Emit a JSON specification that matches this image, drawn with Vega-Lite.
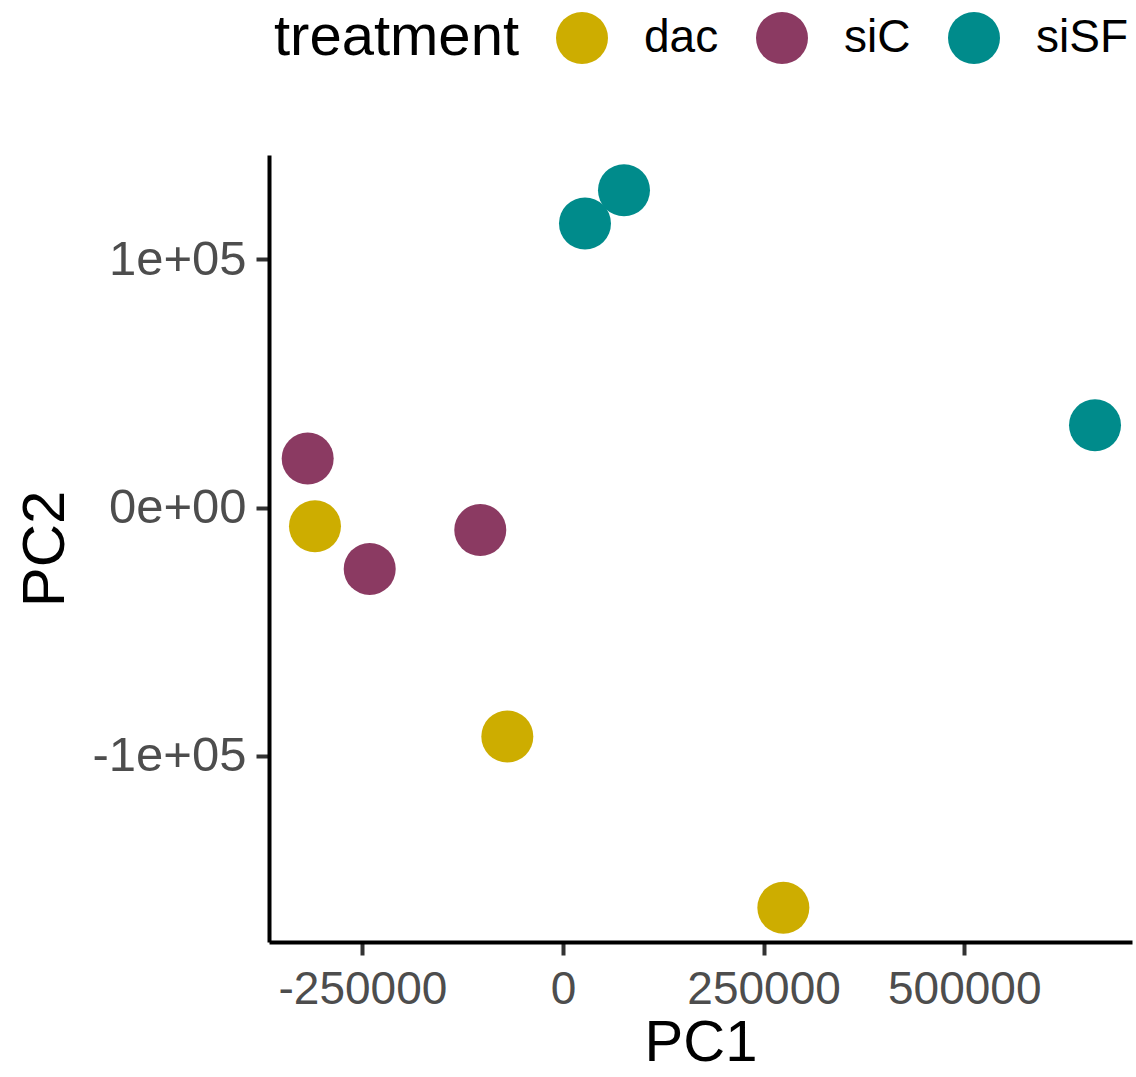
{
  "$schema": "https://vega.github.io/schema/vega-lite/v6.json",
  "autosize": "none",
  "width": 863,
  "height": 787,
  "padding": {"left": 269, "top": 155, "right": 4, "bottom": 135},
  "background": "white",
  "config": {
    "font": "Liberation Sans",
    "view": {"stroke": null},
    "axis": {
      "grid": false,
      "domainColor": "black",
      "domainWidth": 4,
      "tickColor": "#333333",
      "tickWidth": 4,
      "tickSize": 13,
      "labelFont": "Liberation Sans",
      "labelFontSize": 46,
      "labelColor": "#4D4D4D",
      "titleFont": "Liberation Sans",
      "titleFontSize": 60,
      "titleFontWeight": "normal",
      "titleColor": "black"
    }
  },
  "data": {
    "values": [
      {"PC1": 274600, "PC2": -161200, "treatment": "dac"},
      {"PC1": -69400, "PC2": -92200, "treatment": "dac"},
      {"PC1": -309100, "PC2": -7500, "treatment": "dac"},
      {"PC1": -318200, "PC2": 19800, "treatment": "siC"},
      {"PC1": -240900, "PC2": -24700, "treatment": "siC"},
      {"PC1": -103100, "PC2": -9000, "treatment": "siC"},
      {"PC1": 76000, "PC2": 127900, "treatment": "siSF"},
      {"PC1": 27400, "PC2": 114500, "treatment": "siSF"},
      {"PC1": 663000, "PC2": 33200, "treatment": "siSF"}
    ]
  },
  "mark": {"type": "point", "filled": true, "opacity": 1, "size": 2704, "shape": "circle"},
  "encoding": {
    "x": {
      "field": "PC1",
      "type": "quantitative",
      "scale": {"domain": [-366400, 709100], "nice": false, "zero": false},
      "axis": {
        "values": [-250000, 0, 250000, 500000],
        "labelExpr": "'' + datum.value",
        "labelPadding": 12,
        "titleFontSize": 58,
        "titlePadding": 2,
        "labelFlush": false
      }
    },
    "y": {
      "field": "PC2",
      "type": "quantitative",
      "scale": {"domain": [-175000, 142100], "nice": false, "zero": false},
      "axis": {
        "values": [-100000, 0, 100000],
        "labelExpr": "datum.value == 0 ? '0e+00' : (datum.value > 0 ? '1e+05' : '-1e+05')",
        "labelFontSize": 49,
        "labelPadding": 10,
        "titlePadding": 16,
        "labelFlush": false
      }
    },
    "color": {
      "field": "treatment",
      "type": "nominal",
      "scale": {"domain": ["dac", "siC", "siSF"], "range": ["#CDAD00", "#8B3A62", "#008B8B"]},
      "legend": {
        "orient": "none",
        "legendX": 5,
        "legendY": -143,
        "direction": "horizontal",
        "titleOrient": "left",
        "titleFontSize": 58,
        "titleFontWeight": "normal",
        "titleColor": "black",
        "titleFont": "Liberation Sans",
        "titleLimit": 1000,
        "titlePadding": 37,
        "titleBaseline": "middle",
        "labelFontSize": 46,
        "labelLimit": 1000,
        "labelColor": "black",
        "labelFont": "Liberation Sans",
        "labelOffset": 36,
        "columnPadding": 37,
        "symbolSize": 2704,
        "symbolType": "circle",
        "symbolStrokeWidth": 0,
        "symbolOpacity": 1
      }
    }
  }
}
